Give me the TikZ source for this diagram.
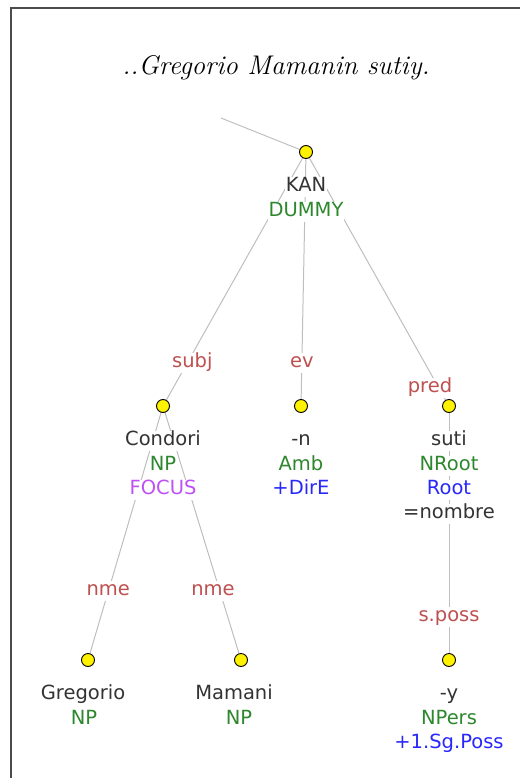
\documentclass[tikz,border=0pt]{standalone}
\usepackage{fontspec}
\usepackage{xcolor}
\usepackage{tikz}
\usetikzlibrary{positioning,backgrounds}

\newfontfamily\treefont{DejaVu Sans}
\definecolor{wordgray}{RGB}{51,51,51}
\definecolor{catgreen}{RGB}{45,135,45}
\definecolor{featblue}{RGB}{40,40,250}
\definecolor{focuspurple}{RGB}{190,80,245}
\definecolor{relred}{RGB}{190,80,80}
\definecolor{edgegray}{RGB}{190,190,190}

\tikzset{
  yellowdot/.style={circle, draw=black, fill=yellow, line width=0.9pt, minimum size=13pt, inner sep=0pt},
  treeline/.style={font=\treefont\fontsize{19.5}{24}\selectfont, fill=white, inner xsep=1pt, inner ysep=0.5pt, text height=14pt, text depth=5pt},
  wordline/.style={treeline, text=wordgray},
  catline/.style={treeline, text=catgreen},
  featline/.style={treeline, text=featblue},
  focusline/.style={treeline, text=focuspurple},
  rellabel/.style={treeline, text=relred},
  treeedge/.style={draw=edgegray, line width=1pt}
}

\begin{document}
\begin{tikzpicture}[x=1pt, y=-1pt]
    \useasboundingbox (0,0) rectangle (520,778);

    % Frame
    \draw[line width=1.5pt, black!70] (11,778) -- (11,8) -- (520,8);

    % Sentence
    \node[anchor=base, inner sep=0pt, font=\fontsize{27}{32}\selectfont\itshape] (sentence) at (276,75) {..Gregorio Mamanin sutiy.};

    % Dots
    \coordinate (upper) at (221,118);
    \node[yellowdot] (kandot) at (306,152) {};
    \node[yellowdot] (condot) at (163,406) {};
    \node[yellowdot] (ndot) at (301,406) {};
    \node[yellowdot] (sutidot) at (449,406) {};
    \node[yellowdot] (gregdot) at (88,660) {};
    \node[yellowdot] (mamdot) at (241,660) {};
    \node[yellowdot] (ydot) at (449,660) {};

    % Edges with relation labels
    \begin{pgfonlayer}{background}
    \draw[treeedge] (upper) -- (kandot.center);
    \draw[treeedge] (kandot.center) -- (condot.center) node[rellabel, pos=0.83, xshift=5pt] (subj) {subj};
    \draw[treeedge] (kandot.center) -- (ndot.center) node[rellabel, pos=0.83] (ev) {ev};
    \draw[treeedge] (kandot.center) -- (sutidot.center) node[rellabel, pos=0.93, xshift=-9pt] (pred) {pred};
    \draw[treeedge] (condot.center) -- (gregdot.center) node[rellabel, pos=0.73] (nmeleft) {nme};
    \draw[treeedge] (condot.center) -- (mamdot.center) node[rellabel, pos=0.73, xshift=-7pt] (nmeright) {nme};
    \draw[treeedge] (sutidot.center) -- (ydot.center) node[rellabel, pos=0.83] (sposs) {s.poss};
    \end{pgfonlayer}

    % KAN
    \node[wordline, below=18pt of kandot] (kan) {KAN};
    \node[catline, below=4pt of kan] (kancat) {DUMMY};

    % Condori
    \node[wordline, below=18pt of condot] (condori) {Condori};
    \node[catline, below=4pt of condori] (concat) {NP};
    \node[focusline, below=4pt of concat] (confocus) {FOCUS};

    % -n
    \node[wordline, below=18pt of ndot] (nsuf) {-n};
    \node[catline, below=4pt of nsuf] (ncat) {Amb};
    \node[featline, below=4pt of ncat] (nfeat) {+DirE};

    % suti
    \node[wordline, below=18pt of sutidot] (suti) {suti};
    \node[catline, below=4pt of suti] (suticat) {NRoot};
    \node[featline, below=4pt of suticat] (sutifeat) {Root};
    \node[wordline, below=4pt of sutifeat] (sutigloss) {=nombre};

    % Gregorio, Mamani
    \node[wordline, below=18pt of gregdot, xshift=-5pt] (gregorio) {Gregorio};
    \node[catline, below=4pt of gregorio, xshift=1pt] (gregcat) {NP};
    \node[wordline, below=18pt of mamdot, xshift=-7pt] (mamani) {Mamani};
    \node[catline, below=4pt of mamani, xshift=5pt] (mamcat) {NP};

    % -y
    \node[wordline, below=18pt of ydot] (ysuf) {-y};
    \node[catline, below=4pt of ysuf] (ycat) {NPers};
    \node[featline, below=4pt of ycat] (yfeat) {+1.Sg.Poss};
\end{tikzpicture}
\end{document}
